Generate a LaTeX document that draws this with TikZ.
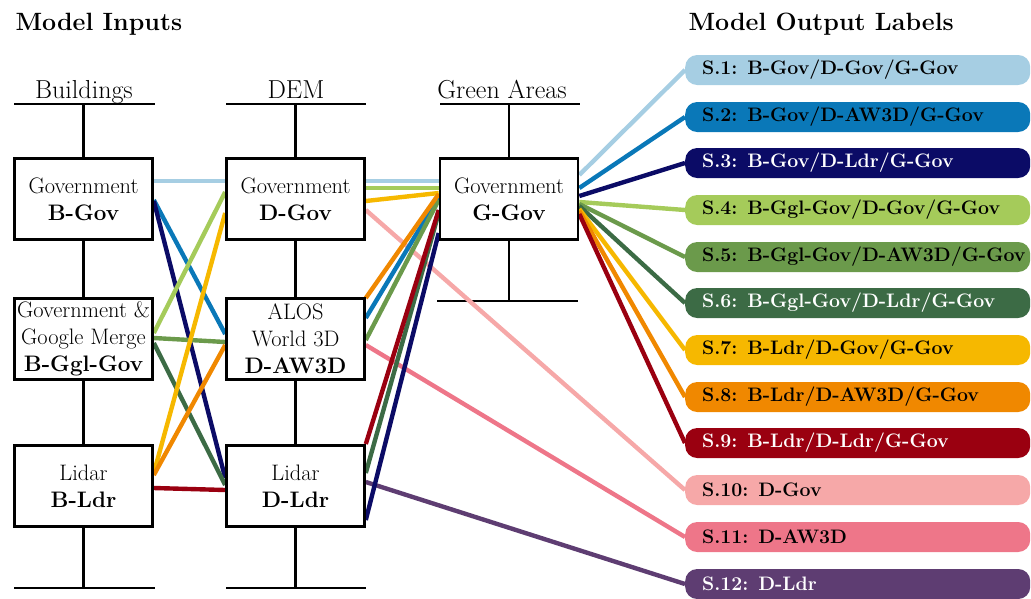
\documentclass[tikz,border=0pt]{standalone}
\usepackage{fontspec}
\usetikzlibrary{calc,backgrounds}
\definecolor{c1}{HTML}{A6CEE3}
\definecolor{c2}{HTML}{0A78B8}
\definecolor{c3}{HTML}{0B0B66}
\definecolor{c4}{HTML}{A5CB5A}
\definecolor{c5}{HTML}{6B9A4B}
\definecolor{c6}{HTML}{3C6B45}
\definecolor{c7}{HTML}{F6B800}
\definecolor{c8}{HTML}{F08800}
\definecolor{c9}{HTML}{9A0010}
\definecolor{c10}{HTML}{F6A8A8}
\definecolor{c11}{HTML}{EE7689}
\definecolor{c12}{HTML}{5E3D72}
\begin{document}
\begin{tikzpicture}[x=1pt,y=-1pt,
  box/.style={draw=black, line width=2.6pt, fill=white, minimum width=138pt, minimum height=81pt, inner sep=0pt, align=center, font=\fontsize{22.4}{27}\selectfont},
  hdr/.style={font=\fontsize{26}{28}\selectfont, anchor=base},
  ttl/.style={font=\bfseries\fontsize{25}{28}\selectfont, anchor=base west},
  rail/.style={line width=2.2pt},
  conn/.style={line width=4.4pt},
  lab/.style={anchor=west, rounded corners=12pt, minimum height=30pt, text width=311pt, inner xsep=17pt, inner ysep=0pt, align=left, font=\bfseries\fontsize{19.5}{22}\selectfont}
]
\useasboundingbox (0,0) rectangle (1031,598);
% titles
\node[ttl] (t1) at (12,30) {Model Inputs};
\node[ttl] (t2) at (685,30) {Model Output Labels};
% headers
\node[hdr] (h1) at (84,98) {Buildings};
\node[hdr] (h2) at (296,98) {DEM};
\node[hdr] (h3) at (502,98) {Green Areas};
% boxes
\node[box] (bgov) at (83.5,199) {Government\\\textbf{B-Gov}};
\node[box] (bggl) at (83.5,339) {Government \&\\Google Merge\\\textbf{B-Ggl-Gov}};
\node[box] (bldr) at (83.5,486) {Lidar\\\textbf{B-Ldr}};
\node[box] (dgov) at (295.5,199) {Government\\\textbf{D-Gov}};
\node[box] (daw) at (295.5,339) {ALOS\\World 3D\\\textbf{D-AW3D}};
\node[box] (dldr) at (295.5,486) {Lidar\\\textbf{D-Ldr}};
\node[box] (ggov) at (509,199) {Government\\\textbf{G-Gov}};
% labels
\node[lab, fill=c1, text=black] (s1) at (685,70) {\mbox{S.1: B-Gov/D-Gov/G-Gov}};
\node[lab, fill=c2, text=black] (s2) at (685,117) {\mbox{S.2: B-Gov/D-AW3D/G-Gov}};
\node[lab, fill=c3, text=white] (s3) at (685,163) {\mbox{S.3: B-Gov/D-Ldr/G-Gov}};
\node[lab, fill=c4, text=black] (s4) at (685,210) {\mbox{S.4: B-Ggl-Gov/D-Gov/G-Gov}};
\node[lab, fill=c5, text=black] (s5) at (685,257) {\mbox{S.5: B-Ggl-Gov/D-AW3D/G-Gov}};
\node[lab, fill=c6, text=white] (s6) at (685,303) {\mbox{S.6: B-Ggl-Gov/D-Ldr/G-Gov}};
\node[lab, fill=c7, text=black] (s7) at (685,350) {\mbox{S.7: B-Ldr/D-Gov/G-Gov}};
\node[lab, fill=c8, text=black] (s8) at (685,397) {\mbox{S.8: B-Ldr/D-AW3D/G-Gov}};
\node[lab, fill=c9, text=white] (s9) at (685,443) {\mbox{S.9: B-Ldr/D-Ldr/G-Gov}};
\node[lab, fill=c10, text=black] (s10) at (685,490) {\mbox{S.10: D-Gov}};
\node[lab, fill=c11, text=black] (s11) at (685,537) {\mbox{S.11: D-AW3D}};
\node[lab, fill=c12, text=white] (s12) at (685,584) {\mbox{S.12: D-Ldr}};
\begin{scope}[on background layer]
% rails
\draw[rail] (14,104) -- (155,104);
\draw[rail] (226,104) -- (366,104);
\draw[rail] (440,104) -- (580,104);
\draw[rail] (14,588) -- (155,588);
\draw[rail] (226,588) -- (366,588);
\draw[rail] (437,301) -- (578,301);
\draw[rail] (bgov.north) -- (bgov.north |- 0,104);
\draw[rail] (bgov.south) -- (bggl.north);
\draw[rail] (bggl.south) -- (bldr.north);
\draw[rail] (bldr.south) -- (bldr.south |- 0,588);
\draw[rail] (dgov.north) -- (dgov.north |- 0,104);
\draw[rail] (dgov.south) -- (daw.north);
\draw[rail] (daw.south) -- (dldr.north);
\draw[rail] (dldr.south) -- (dldr.south |- 0,588);
\draw[rail] (ggov.north) -- (ggov.north |- 0,104);
\draw[rail] (ggov.south) -- (ggov.south |- 0,301);
% connectors
% S.1
\draw[conn,c1] ($(bgov.east)+(0,-18)$) -- ($(dgov.west)+(0,-18)$);
\draw[conn,c1] ($(dgov.east)+(0,-18)$) -- ($(ggov.west)+(0,-18)$);
\draw[conn,c1] ($(ggov.east)+(0,-24)$) -- (s1.west);
% S.10, S.11, S.12
\draw[conn,c10] ($(dgov.east)+(0,11)$) -- (s10.west);
\draw[conn,c11] ($(daw.east)+(0,6)$) -- (s11.west);
\draw[conn,c12] ($(dldr.east)+(0,-4)$) -- (s12.west);
% S.2
\draw[conn,c2] ($(bgov.east)+(0,1)$) -- ($(daw.west)+(0,-5)$);
\draw[conn,c2] ($(daw.east)+(0,-21)$) -- ($(ggov.west)+(0,-2)$);
\draw[conn,c2] ($(ggov.east)+(0,-11)$) -- (s2.west);
% S.3
\draw[conn,c3] ($(bgov.east)+(0,2)$) -- ($(dldr.west)+(0,-8)$);
\draw[conn,c3] ($(dldr.east)+(0,34)$) -- ($(ggov.west)+(0,34)$);
\draw[conn,c3] ($(ggov.east)+(0,-3)$) -- (s3.west);
% S.4
\draw[conn,c4] ($(bggl.east)+(0,-6)$) -- ($(dgov.west)+(0,-7)$);
\draw[conn,c4] ($(dgov.east)+(0,-11)$) -- ($(ggov.west)+(0,-11)$);
\draw[conn,c4] ($(ggov.east)+(0,3)$) -- (s4.west);
% S.5
\draw[conn,c5] ($(bggl.east)+(0,-1)$) -- ($(daw.west)+(0,3)$);
\draw[conn,c5] ($(daw.east)+(0,1)$) -- ($(ggov.west)+(0,1)$);
\draw[conn,c5] ($(ggov.east)+(0,5)$) -- (s5.west);
% S.6
\draw[conn,c6] ($(bggl.east)+(0,4)$) -- ($(dldr.west)+(0,-1)$);
\draw[conn,c6] ($(dldr.east)+(0,-13)$) -- ($(ggov.west)+(0,14)$);
\draw[conn,c6] ($(ggov.east)+(0,7)$) -- (s6.west);
% S.7
\draw[conn,c7] ($(bldr.east)+(0,-13)$) -- ($(dgov.west)+(0,14)$);
\draw[conn,c7] ($(dgov.east)+(0,2)$) -- ($(ggov.west)+(0,-6)$);
\draw[conn,c7] ($(ggov.east)+(0,10)$) -- (s7.west);
% S.8
\draw[conn,c8] ($(bldr.east)+(0,-11)$) -- ($(daw.west)+(0,6)$);
\draw[conn,c8] ($(daw.east)+(0,-41)$) -- ($(ggov.west)+(0,-5)$);
\draw[conn,c8] ($(ggov.east)+(0,12)$) -- (s8.west);
% S.9
\draw[conn,c9] ($(bldr.east)+(0,2)$) -- ($(dldr.west)+(0,4)$);
\draw[conn,c9] ($(dldr.east)+(0,-42)$) -- ($(ggov.west)+(0,11)$);
\draw[conn,c9] ($(ggov.east)+(0,15)$) -- (s9.west);
\end{scope}
\end{tikzpicture}
\end{document}
